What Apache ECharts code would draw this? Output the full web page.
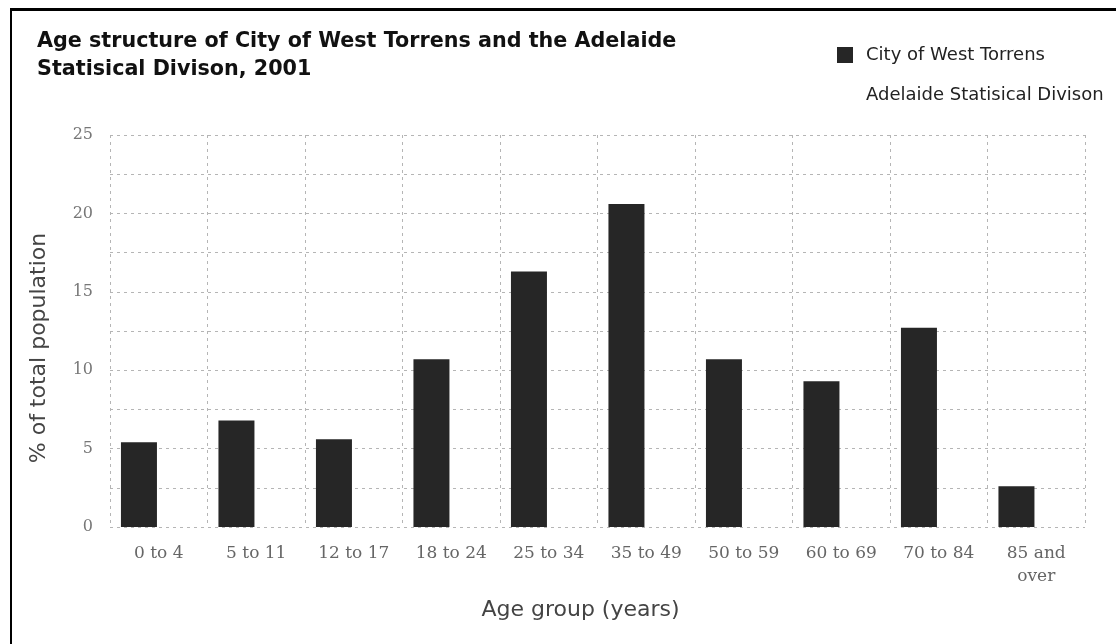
<!DOCTYPE html>
<html>
<head>
<meta charset="utf-8">
<script src="https://cdn.jsdelivr.net/npm/echarts@6/dist/echarts.min.js"></script>
<style>
html,body{margin:0;padding:0;background:#fff;}
#chart{width:1116px;height:644px;}
</style>
</head>
<body>
<div id="chart"></div>
<script>
var categories = ['0 to 4', '5 to 11', '12 to 17', '18 to 24', '25 to 34', '35 to 49', '50 to 59', '60 to 69', '70 to 84', '85 and over'];
var westTorrens = [5.4, 6.8, 5.6, 10.7, 16.3, 20.6, 10.7, 9.3, 12.7, 2.6];
// Adelaide series bars are not visible in the reference (washed out), values unreadable
var adelaide = [null, null, null, null, null, null, null, null, null, null];
var yTicks = [0, 5, 10, 15, 20, 25];

var chart = echarts.init(document.getElementById('chart'), null, {renderer: 'canvas'});
var gridColor = '#b5b5b5';
chart.setOption({
  backgroundColor: '#fff',
  animation: false,
  title: {
    text: 'Age structure of City of West Torrens and the Adelaide\nStatisical Divison, 2001',
    left: 32, top: 23,
    textStyle: {fontFamily: 'DejaVu Sans', fontSize: 20.7, fontWeight: 'bold', color: '#111', lineHeight: 28}
  },
  legend: {
    orient: 'vertical',
    left: 832, top: 41,
    itemWidth: 16, itemHeight: 16, itemGap: 22,
    icon: 'rect',
    textStyle: {fontFamily: 'DejaVu Sans', fontSize: 18, color: '#222', padding: [0, 0, 0, 8]},
    data: ['City of West Torrens', 'Adelaide Statisical Divison']
  },
  grid: {left: 110, right: 31, top: 135, bottom: 117, containLabel: false},
  xAxis: {
    type: 'category',
    data: categories,
    name: 'Age group (years)',
    nameLocation: 'middle',
    nameGap: 72,
    nameTextStyle: {fontFamily: 'DejaVu Sans', fontSize: 22, color: '#444', padding: [0, 34, 0, 0]},
    axisLine: {show: false},
    axisTick: {show: false},
    axisLabel: {
      fontFamily: 'DejaVu Serif', fontSize: 17, color: '#666', margin: 15, lineHeight: 23,
      interval: 0,
      formatter: function (v) { return v.replace(' and ', ' and\n'); }
    },
    splitLine: {show: true, lineStyle: {color: gridColor, type: [3, 4], width: 1}}
  },
  yAxis: {
    type: 'value',
    min: 0, max: 25, interval: 5,
    name: '% of total population',
    nameLocation: 'middle',
    nameGap: 60,
    nameTextStyle: {fontFamily: 'DejaVu Sans', fontSize: 22, color: '#444', padding: [0, 34, 0, 0]},
    axisLine: {show: false},
    axisTick: {show: false},
    axisLabel: {
      fontFamily: 'DejaVu Serif', fontSize: 16, color: '#777', margin: 17,
      formatter: function (v) { return yTicks.indexOf(v) >= 0 ? String(v) : ''; }
    },
    splitLine: {show: true, lineStyle: {color: gridColor, type: [3, 4], width: 1}},
    minorTick: {show: false, splitNumber: 2},
    minorSplitLine: {show: true, lineStyle: {color: gridColor, type: [3, 4], width: 1}}
  },
  series: [
    {
      name: 'City of West Torrens',
      type: 'bar',
      data: westTorrens,
      barWidth: 36,
      barGap: '10%',
      itemStyle: {color: '#262626'}
    },
    {
      name: 'Adelaide Statisical Divison',
      type: 'bar',
      data: adelaide,
      barWidth: 36,
      itemStyle: {color: '#ffffff'}
    }
  ],
  graphic: [
    {type: 'rect', shape: {x: 10, y: 8, width: 1106, height: 3}, style: {fill: '#000'}, silent: true},
    {type: 'rect', shape: {x: 10, y: 8, width: 2, height: 636}, style: {fill: '#000'}, silent: true}
  ]
});
</script>
</body>
</html>
